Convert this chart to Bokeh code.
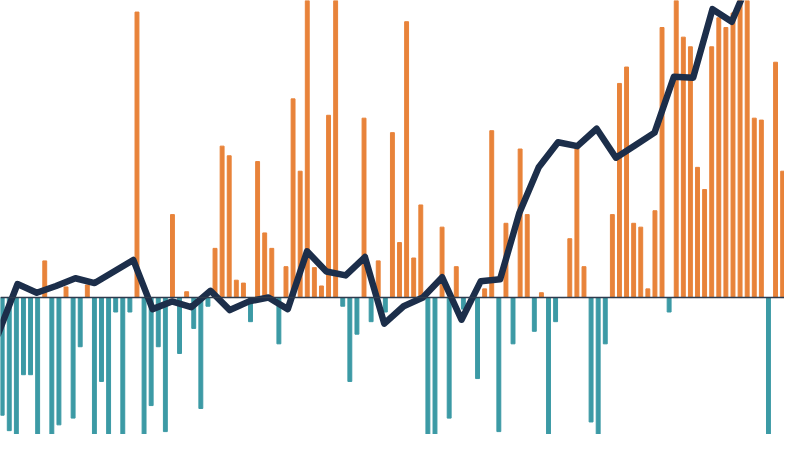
from bokeh.plotting import figure
from bokeh.models import Range1d, Span, ColumnDataSource
from bokeh.embed import file_html
from bokeh.resources import INLINE

# Bar series (deviation from baseline), one value per period
bar_values = [
    -122, -138, -155, -80, -80, -160, 38, -158, -132, 11,
    -125, -51, 13, -162, -87, -155, -15, -160, -15, 296,
    -150, -112, -51, -139, 86, -58, 6, -32, -115, -9,
    51, 157, 147, 18, 15, -25, 141, 67, 51, -48,
    32, 206, 131, 330, 31, 12, 189, 330, -9, -87,
    -38, 186, -25, 38, -15, 171, 57, 286, 41, 96,
    -160, -155, 73, -125, 32, -12, 0, -84, 9, 173,
    -139, 77, -48, 154, 86, -35, 5, -158, -25, 0,
    61, 156, 32, -129, -160, -48, 86, 222, 239, 77,
    73, 9, 90, 280, -15, 330, 270, 260, 135, 112,
    260, 290, 280, 295, 320, 320, 186, 184, -160, 244,
    131,
]

# Cumulative / trend line series
line_values = [
    -38, 14, 5, 12, 20, 15, 27, 39, -12, -4,
    -10, 7, -13, -4, 0, -12, 48, 27, 23, 42,
    -27, -9, 0, 21, -23, 17, 19, 88, 135, 161,
    157, 175, 145, 158, 171, 229, 228, 299, 286, 333,
]

POS_COLOR = "#E8833A"
NEG_COLOR = "#3C9AA5"
LINE_COLOR = "#1C2E4A"

bar_index = list(range(len(bar_values)))
line_index = list(range(len(line_values)))
bar_colors = [POS_COLOR if v > 0 else NEG_COLOR for v in bar_values]

bars = ColumnDataSource(dict(x=bar_index, top=bar_values, color=bar_colors))
line = ColumnDataSource(dict(x=line_index, y=line_values))

p = figure(width=784, height=434, output_backend="svg", toolbar_location=None,
           x_range=Range1d(-0.235, 110.26), y_range=Range1d(-142, 308),
           x_axis_type=None, y_axis_type=None, min_border=0)
p.extra_x_ranges = {"line": Range1d(0.122, 40.73)}
p.grid.visible = False
p.outline_line_color = None
p.background_fill_color = "white"
p.border_fill_color = "white"

p.vbar(x="x", top="top", bottom=0, width=0.55, color="color", source=bars)
p.add_layout(Span(location=0, dimension="width", line_color="#2E3B4E", line_width=1.5))
p.line(x="x", y="y", source=line, x_range_name="line", line_color=LINE_COLOR,
       line_width=6.5, line_join="round", line_cap="round")

open("out.html", "w").write(file_html(p, INLINE))
